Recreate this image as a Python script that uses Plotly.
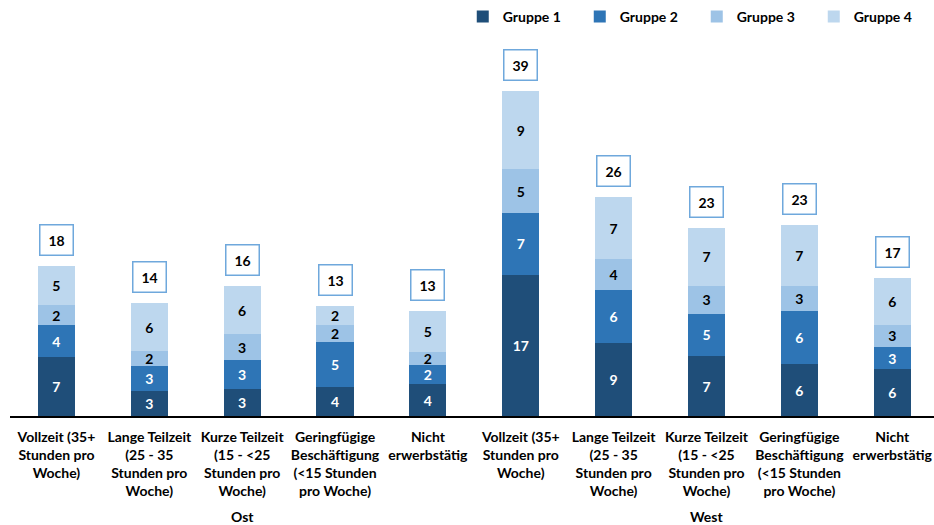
import plotly.graph_objects as go

# categories (same five for Ost and West)
cats = ['Vollzeit (35+<br>Stunden pro<br>Woche)',
        'Lange Teilzeit<br>(25 - 35<br>Stunden pro<br>Woche)',
        'Kurze Teilzeit<br>(15 - &lt;25<br>Stunden pro<br>Woche)',
        'Geringfügige<br>Beschäftigung<br>(&lt;15 Stunden<br>pro Woche)',
        'Nicht<br>erwerbstätig']
regions = ['Ost', 'West']

# values: Ost x5, then West x5
g1 = [7.1, 3.0, 3.3, 3.5, 3.8, 17.0, 8.8, 7.2, 6.2, 5.6]
g2 = [3.8, 3.0, 3.4, 5.4, 2.3, 7.4, 6.4, 5.1, 6.4, 2.7]
g3 = [2.4, 1.8, 3.2, 2.1, 1.6, 5.3, 3.7, 3.4, 3.1, 2.7]
g4 = [4.7, 5.8, 5.7, 2.2, 4.9, 9.4, 7.4, 6.9, 7.3, 5.6]

names = ['Gruppe 1', 'Gruppe 2', 'Gruppe 3', 'Gruppe 4']
colors = ['#1f4e79', '#2e75b6', '#9dc3e6', '#bdd7ee']
txtcol = ['white', 'white', 'black', 'black']

FONT = 'Lato'
xs = list(range(len(g1)))

fig = go.Figure()
for name, vals, col, tc in zip(names, [g1, g2, g3, g4], colors, txtcol):
    fig.add_trace(go.Bar(
        x=xs, y=vals, name=name,
        marker=dict(color=col, line=dict(width=0)),
        texttemplate='%{y:.0f}', textposition='inside',
        insidetextanchor='middle', textangle=0,
        textfont=dict(family=FONT, size=14, color=tc, weight='bold'),
        hoverinfo='skip'))

totals = [a + b + c + d for a, b, c, d in zip(g1, g2, g3, g4)]
for i, t in enumerate(totals):
    fig.add_annotation(x=i, y=t, text='%.0f' % t, showarrow=False,
                       yanchor='bottom', yshift=10,
                       font=dict(family=FONT, size=14, color='black', weight='bold'),
                       bgcolor='white', bordercolor='#6fa8dc', borderwidth=1.5,
                       borderpad=6, width=20)

# Ost / West under the category labels
for j, r in enumerate(regions):
    fig.add_annotation(x=j * 5 + 2, y=-0.27, yref='paper', text=r,
                       showarrow=False, yanchor='middle',
                       font=dict(family=FONT, size=14, color='black', weight='bold'))

fig.update_layout(
    width=934, height=525,
    margin=dict(l=10, r=0, t=42, b=109, autoexpand=False),
    barmode='stack', bargap=0.6,
    plot_bgcolor='white', paper_bgcolor='white',
    font=dict(family=FONT, color='black'),
    uniformtext=dict(minsize=14, mode='show'),
    legend=dict(orientation='h', x=0.49, xanchor='left', y=1.067, yanchor='middle',
                traceorder='normal', entrywidth=72,
                font=dict(family=FONT, size=14, color='black', weight='bold')),
    xaxis=dict(range=[-0.5, 9.45], tickvals=xs, ticktext=cats * 2,
               automargin=False, ticklabelstandoff=7,
               showline=True, linecolor='black', linewidth=2,
               showgrid=False, zeroline=False, ticks='',
               tickfont=dict(family=FONT, size=14, color='black', weight='bold')),
    yaxis=dict(range=[0, 45], visible=False, showgrid=False, zeroline=False,
               automargin=False),
)

# the page body has a default 8px margin; drop it so the figure sits at 0,0
fig.write_html("out.html", config={'displayModeBar': False},
               post_script="document.body.style.margin='0';")
